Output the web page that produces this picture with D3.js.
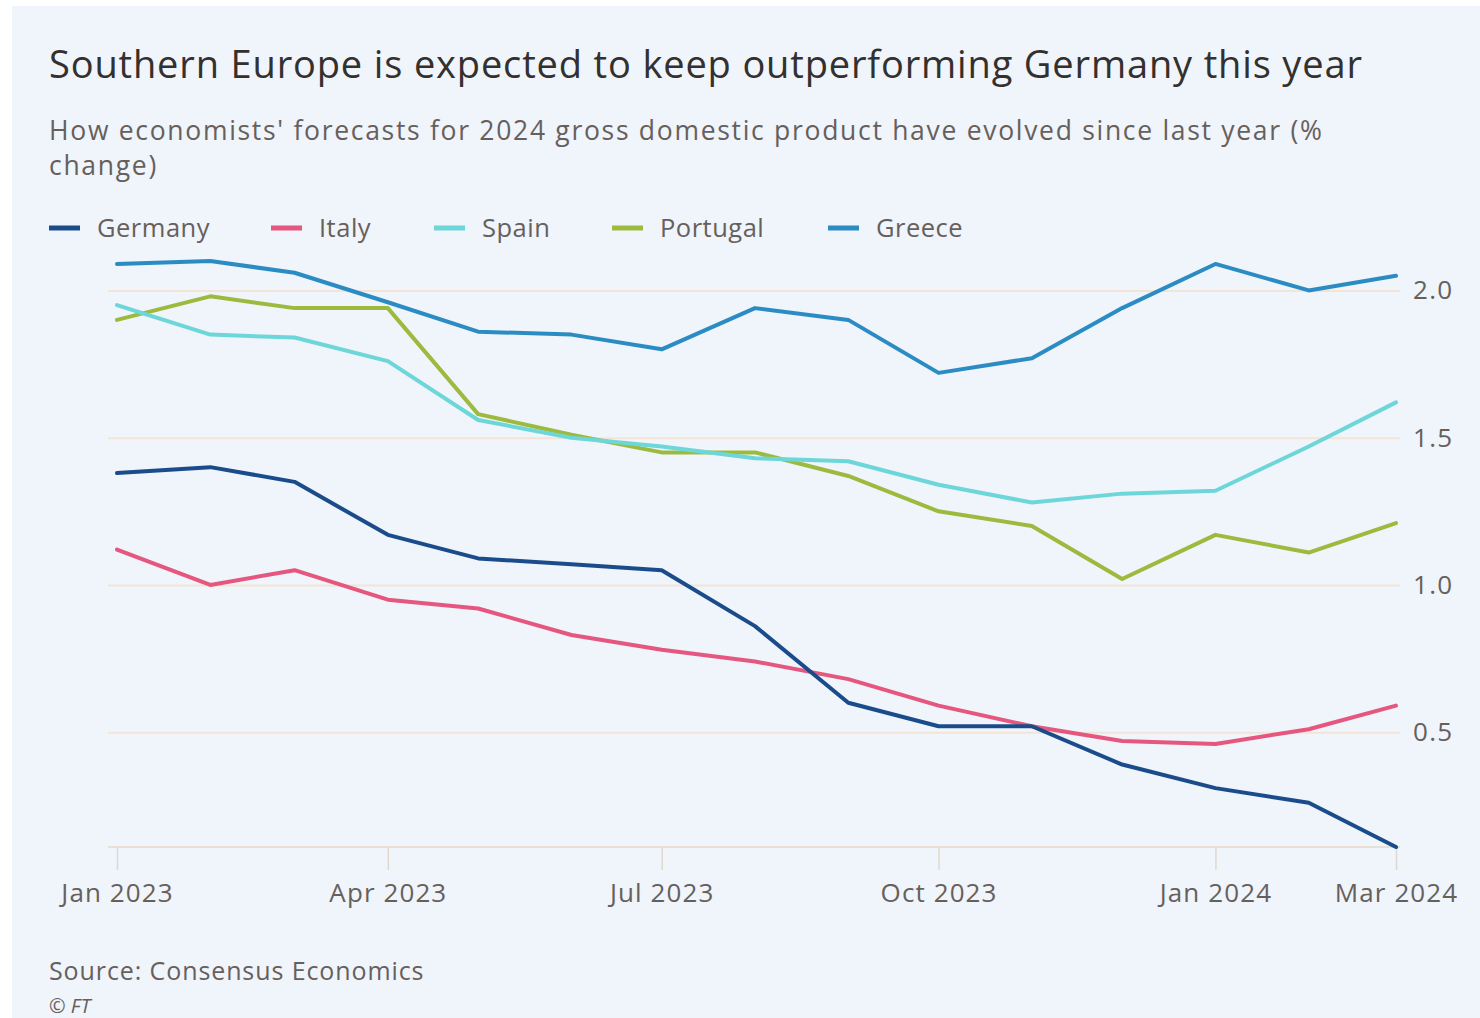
<!DOCTYPE html>
<html>
<head>
<meta charset="utf-8">
<script src="https://cdn.jsdelivr.net/npm/d3@7"></script>
<style>
  body { margin: 0; background: #ffffff; }
  svg { display: block; }
  text { font-family: "Open Sans", "Noto Sans", sans-serif; }
</style>
</head>
<body>
<svg class="chart"></svg>
<script>
// monthly forecasts for 2024 GDP, Jan 2023 .. Mar 2024
var months = ["2023-01","2023-02","2023-03","2023-04","2023-05","2023-06","2023-07",
              "2023-08","2023-09","2023-10","2023-11","2023-12","2024-01","2024-02","2024-03"];

var germany  = [1.38, 1.40, 1.35, 1.17, 1.09, 1.07, 1.05, 0.86, 0.60, 0.52, 0.52, 0.39, 0.31, 0.26, 0.11];
var italy    = [1.12, 1.00, 1.05, 0.95, 0.92, 0.83, 0.78, 0.74, 0.68, 0.59, 0.52, 0.47, 0.46, 0.51, 0.59];
var spain    = [1.95, 1.85, 1.84, 1.76, 1.56, 1.50, 1.47, 1.43, 1.42, 1.34, 1.28, 1.31, 1.32, 1.47, 1.62];
var portugal = [1.90, 1.98, 1.94, 1.94, 1.58, 1.51, 1.45, 1.45, 1.37, 1.25, 1.20, 1.02, 1.17, 1.11, 1.21];
var greece   = [2.09, 2.10, 2.06, 1.96, 1.86, 1.85, 1.80, 1.94, 1.90, 1.72, 1.77, 1.94, 2.09, 2.00, 2.05];

var countries = ["Germany", "Italy", "Spain", "Portugal", "Greece"];
var colors = ["#1a4c8b", "#e5577f", "#6dd6d9", "#9cbb3e", "#2b8bc3"];
var yTicks = [0.5, 1.0, 1.5, 2.0];
var xTickLabels = ["2023-01","2023-04","2023-07","2023-10","2024-01","2024-03"];

var width = 1480;
var height = 1018;

var svg = d3.select(".chart")
  .attr("width", width)
  .attr("height", height);

// card background
svg.append("rect")
  .attr("x", 12).attr("y", 6)
  .attr("width", width - 12).attr("height", height - 6)
  .attr("fill", "#f0f4fb");

var parseMonth = d3.timeParse("%Y-%m");
var dates = months.map(parseMonth);

var series = [germany, italy, spain, portugal, greece].map(function(vals, i) {
  return {
    name: countries[i],
    color: colors[i],
    values: vals.map(function(v, j) { return { date: dates[j], value: v }; })
  };
});

var allValues = d3.merge([germany, italy, spain, portugal, greece]);

var x = d3.scaleTime()
  .domain(d3.extent(dates))
  .range([117, 1396]);

var y = d3.scaleLinear()
  .domain(d3.extent(allValues))
  .range([847, 261]);

// titles
svg.append("text")
  .attr("x", 49).attr("y", 78)
  .attr("font-size", 38)
  .attr("letter-spacing", 0.85)
  .attr("fill", "#33302e")
  .text("Southern Europe is expected to keep outperforming Germany this year");

var sub = svg.append("text")
  .attr("font-size", 26.5)
  .attr("letter-spacing", 1.7)
  .attr("fill", "#66605c");
sub.append("tspan").attr("x", 49).attr("y", 140)
  .text("How economists' forecasts for 2024 gross domestic product have evolved since last year (%");
sub.append("tspan").attr("x", 49).attr("y", 175)
  .text("change)");

// legend
var legendX = [49, 271, 434, 612, 828];
var legend = svg.append("g");
series.forEach(function(s, i) {
  var g = legend.append("g").attr("transform", "translate(" + legendX[i] + ",228)");
  g.append("line")
    .attr("x1", 0).attr("x2", 31)
    .attr("y1", 0).attr("y2", 0)
    .attr("stroke", s.color)
    .attr("stroke-width", 5);
  g.append("text")
    .attr("x", 48).attr("y", 9)
    .attr("font-size", 25.5)
    .attr("letter-spacing", 0.5)
    .attr("fill", "#66605c")
    .text(s.name);
});

// y axis on the right with gridlines
var yAxis = svg.append("g")
  .attr("transform", "translate(1400,0)")
  .call(d3.axisRight(y)
    .tickValues(yTicks)
    .tickSize(-(1400 - 108))
    .tickPadding(13)
    .tickFormat(d3.format(".1f")));

yAxis.select(".domain").remove();
yAxis.selectAll(".tick line")
  .attr("stroke", "#f3e4d6")
  .attr("stroke-width", 2);
yAxis.selectAll(".tick text")
  .attr("font-size", 26)
  .attr("letter-spacing", 1.3)
  .attr("fill", "#66605c")
  .attr("font-family", "\"Open Sans\", sans-serif");

// x axis
var xAxis = svg.append("g")
  .attr("transform", "translate(0,847)")
  .call(d3.axisBottom(x)
    .tickValues(xTickLabels.map(parseMonth))
    .tickSize(23)
    .tickSizeOuter(0)
    .tickPadding(14)
    .tickFormat(d3.timeFormat("%b %Y")));

xAxis.select(".domain")
  .attr("d", "M108,0H1400")
  .attr("stroke", "#eadfd3")
  .attr("stroke-width", 2);
xAxis.selectAll(".tick line")
  .attr("stroke", "#e3d8cc")
  .attr("stroke-width", 1.5);
xAxis.selectAll(".tick text")
  .attr("font-size", 26)
  .attr("letter-spacing", 1.1)
  .attr("fill", "#66605c")
  .attr("font-family", "\"Open Sans\", sans-serif");

// lines
var line = d3.line()
  .x(function(d) { return x(d.date); })
  .y(function(d) { return y(d.value); });

var drawOrder = [4, 3, 2, 1, 0];
svg.append("g")
  .selectAll("path")
  .data(drawOrder.map(function(i) { return series[i]; }))
  .enter()
  .append("path")
  .attr("d", function(d) { return line(d.values); })
  .attr("fill", "none")
  .attr("stroke", function(d) { return d.color; })
  .attr("stroke-width", 4)
  .attr("stroke-linejoin", "round")
  .attr("stroke-linecap", "round");

// footer
svg.append("text")
  .attr("x", 49).attr("y", 980)
  .attr("font-size", 25)
  .attr("letter-spacing", 0.9)
  .attr("fill", "#66605c")
  .text("Source: Consensus Economics");

svg.append("text")
  .attr("x", 49).attr("y", 1013)
  .attr("font-size", 20)
  .attr("font-style", "italic")
  .attr("fill", "#66605c")
  .text("© FT");
</script>
</body>
</html>
